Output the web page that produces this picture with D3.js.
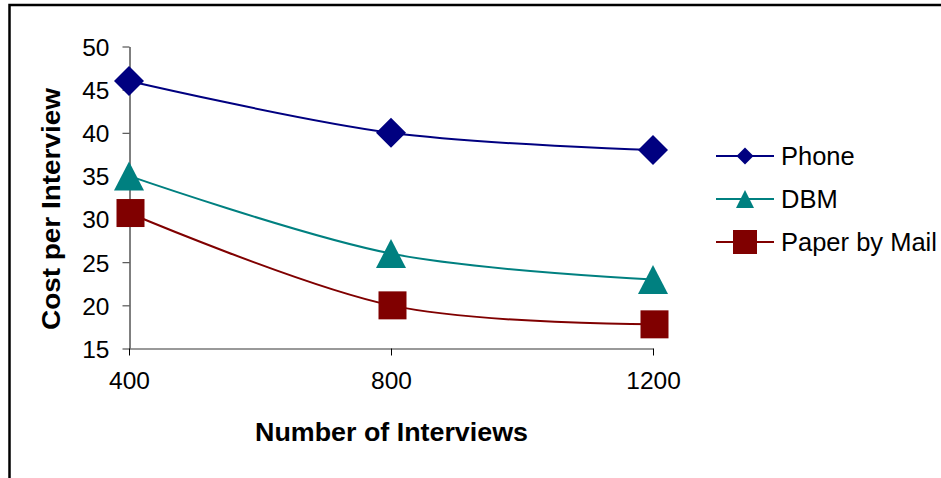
<!DOCTYPE html>
<html>
<head>
<meta charset="utf-8">
<script src="https://cdn.jsdelivr.net/npm/d3@7"></script>
<style>
  html, body { margin: 0; padding: 0; background: #fff; }
  svg { display: block; }
  text { font-family: Arial, "Liberation Sans", Helvetica, sans-serif; fill: #000; }
</style>
</head>
<body>
<svg id="chart" width="941" height="478"></svg>
<script>
// Survey cost by sample size
const interviews = [400, 800, 1200];
const phone      = [46, 40, 38];
const dbm        = [35, 26, 23];
const paperMail  = [30.7, 20, 17.8];
const yTicks     = [15, 20, 25, 30, 35, 40, 45, 50];
const seriesNames  = ["Phone", "DBM", "Paper by Mail"];
const seriesColors = ["#000080", "#008080", "#800000"];
const seriesShapes = ["diamond", "triangle", "square"];

const series = [phone, dbm, paperMail].map((vals, i) => ({
  name: seriesNames[i],
  color: seriesColors[i],
  shape: seriesShapes[i],
  values: vals.map((v, j) => ({ x: interviews[j], y: v }))
}));

const svg = d3.select("#chart");

// chart area frame (runs off the right and bottom edges)
svg.append("rect")
  .attr("x", 9.5).attr("y", 5)
  .attr("width", 960).attr("height", 500)
  .attr("fill", "none").attr("stroke", "#000").attr("stroke-width", 2.5);

const x = d3.scalePoint().domain(interviews).range([129, 653]);
const y = d3.scaleLinear().domain([15, 50]).range([348.5, 46.5]);

// y axis
const yAxis = svg.append("g").attr("transform", "translate(129.5,0)")
  .call(d3.axisLeft(y).tickValues(yTicks).tickSize(7).tickPadding(13).tickSizeOuter(0));
yAxis.select(".domain").attr("stroke", "#000");
yAxis.selectAll(".tick line").attr("stroke", "#333");
yAxis.selectAll(".tick text")
  .attr("font-size", 24.5).attr("dy", "0.36em")
  .style("font-family", "Arial, 'Liberation Sans', sans-serif");

// x axis
const xAxis = svg.append("g").attr("transform", "translate(0,348.5)")
  .call(d3.axisBottom(x).tickSize(7).tickPadding(16).tickSizeOuter(0));
xAxis.select(".domain").attr("stroke", "#777").attr("stroke-width", 1.5);
xAxis.selectAll(".tick line").attr("stroke", "#000");
xAxis.selectAll(".tick text")
  .attr("font-size", 24.5).attr("dy", "0.71em")
  .style("font-family", "Arial, 'Liberation Sans', sans-serif");

// axis titles
svg.append("text")
  .attr("x", 391.5).attr("y", 441)
  .attr("text-anchor", "middle")
  .attr("font-size", 26).attr("font-weight", "bold")
  .attr("textLength", 273).attr("lengthAdjust", "spacingAndGlyphs")
  .text("Number of Interviews");

svg.append("text")
  .attr("transform", "translate(60,209) rotate(-90)")
  .attr("text-anchor", "middle")
  .attr("font-size", 26).attr("font-weight", "bold")
  .attr("textLength", 242).attr("lengthAdjust", "spacingAndGlyphs")
  .text("Cost per Interview");

// marker path builders, centred on 0,0
function markerPath(shape, w, h) {
  if (shape === "diamond") {
    return `M0,${-h/2}L${w/2},0L0,${h/2}L${-w/2},0Z`;
  } else if (shape === "triangle") {
    return `M0,${-h/2}L${w/2},${h/2}L${-w/2},${h/2}Z`;
  }
  return `M${-w/2},${-h/2}H${w/2}V${h/2}H${-w/2}Z`;
}
const chartMarkerSize = { diamond: [30, 30], triangle: [30, 29], square: [28, 28] };
const legendMarkerSize = { diamond: [17, 17], triangle: [18, 18], square: [24, 24] };

const line = d3.line()
  .x(d => x(d.x)).y(d => y(d.y))
  .curve(d3.curveCardinal.tension(0));

const plot = svg.append("g");
series.forEach(s => {
  plot.append("path")
    .attr("d", line(s.values))
    .attr("fill", "none")
    .attr("stroke", s.color)
    .attr("stroke-width", 2);
});
series.forEach(s => {
  const [w, h] = chartMarkerSize[s.shape];
  const dx = s.shape === "square" ? 1.5 : 0;
  plot.selectAll(null).data(s.values).enter().append("path")
    .attr("transform", d => `translate(${x(d.x) + dx},${y(d.y)})`)
    .attr("d", markerPath(s.shape, w, h))
    .attr("fill", s.color);
});

// legend
const legend = svg.append("g");
const legendY = d3.scalePoint().domain(seriesNames).range([156, 242]);
series.forEach(s => {
  const g = legend.append("g").attr("transform", `translate(0,${legendY(s.name)})`);
  g.append("line").attr("x1", 716).attr("x2", 774).attr("y1", 0).attr("y2", 0)
    .attr("stroke", s.color).attr("stroke-width", 2);
  const [w, h] = legendMarkerSize[s.shape];
  g.append("path").attr("transform", "translate(745,0)")
    .attr("d", markerPath(s.shape, w, h)).attr("fill", s.color);
  g.append("text").attr("x", 781).attr("y", 0).attr("dy", "0.36em")
    .attr("font-size", 25.5).text(s.name);
});
</script>
</body>
</html>
